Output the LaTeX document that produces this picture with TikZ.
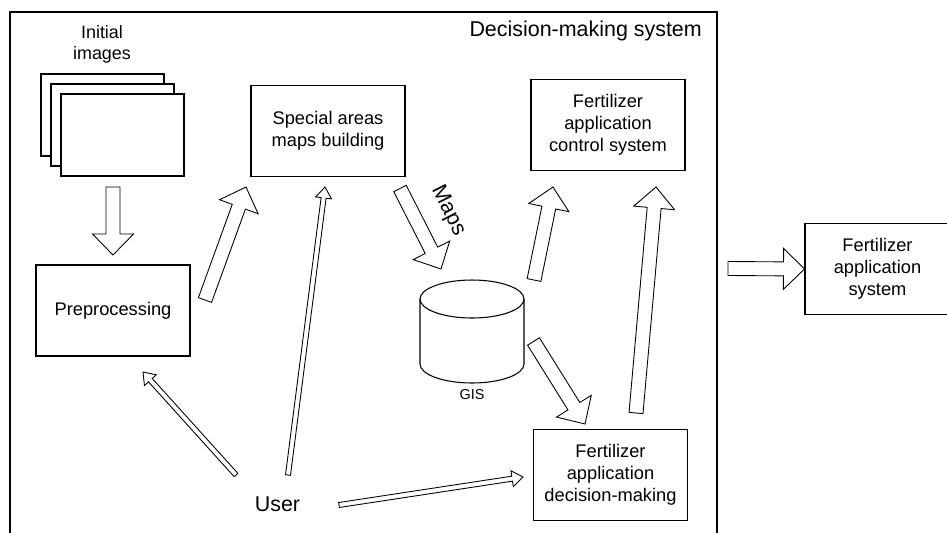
\documentclass[tikz,border=0pt]{standalone}
\usepackage{fontspec}
\setmainfont{Liberation Sans}
\usetikzlibrary{calc,positioning}

\newcommand{\blockarrow}[5]{%
        \coordinate (ba) at ($(#2)!#5!(#1)$);
        \draw[arrowline] ($(#1)!#3!90:(#2)$) -- ($(ba)!#3!90:(#2)$) -- ($(ba)!#4!90:(#2)$) -- (#2)
                -- ($(ba)!#4!-90:(#2)$) -- ($(ba)!#3!-90:(#2)$) -- ($(#1)!#3!-90:(#2)$) -- cycle;
}
\newcommand{\fatarrow}[2]{\blockarrow{#1}{#2}{1.4mm}{4.1mm}{4.2mm}}
\newcommand{\thinarrow}[2]{\blockarrow{#1}{#2}{0.5mm}{1.6mm}{2.2mm}}

\tikzset{
        box/.style={draw, line width=0.6pt, minimum width=3.08cm, minimum height=1.82cm,
                align=center, inner sep=0pt, font=\fontsize{10.4}{12.5}\selectfont},
        sheet/.style={draw, line width=0.6pt, fill=white, minimum width=2.46cm,
                minimum height=1.64cm, inner sep=0pt},
        arrowline/.style={draw, fill=white, line width=0.5pt},
        big/.style={font=\fontsize{12.2}{14}\selectfont}
}

\begin{document}
\begin{tikzpicture}[x=0.02cm, y=-0.02cm]
        \useasboundingbox (0,0) rectangle (947,532);
        \draw[line width=0.6pt] (10,540) -- (10,12) -- (717,12) -- (717,540);
        \node[big, anchor=base east] (title) at (708,36.7) {Decision-making system};

        \node[align=center, font=\fontsize{10.2}{12}\selectfont] (initial) at (102,44) {Initial\\images};
        \node[sheet] (img1) at (102.5,115) {};
        \node[sheet] (img2) at (112.5,125) {};
        \node[sheet] (img3) at (122.5,135) {};

        \node[box] (prep) at (113,310.5) {Preprocessing};
        \node[box] (special) at (328,131) {Special areas\\maps building};
        \node[box] (control) at (608,125) {Fertilizer\\application\\control system};
        \node[box] (decision) at (610.5,475) {Fertilizer\\application\\decision-making};
        \node[box, minimum width=2.9cm] (system) at (877.5,269) {Fertilizer\\application\\system};
        \node[big] (user) at (277.5,504.5) {User};

        % GIS store
        \draw[line width=0.6pt, fill=white] (420,299) -- (420,364)
                arc [start angle=180, end angle=0, x radius=52, y radius=19] -- (524,299);
        \draw[line width=0.6pt] (472,299) ellipse [x radius=52, y radius=19];
        \node[font=\fontsize{8.2}{10}\selectfont] (gis) at (472,395) {GIS};
        \node[big, rotate=-63] (maps) at (448,211) {Maps};

        \coordinate (img-out) at (113,187);
        \coordinate (prep-in) at (113,255);
        \coordinate (prep-out) at (205,300);
        \coordinate (special-in) at (246,187);
        \coordinate (special-out) at (400,188.5);
        \coordinate (gis-in) at (441,269);
        \coordinate (gis-up) at (534,280);
        \coordinate (control-in) at (553,187);
        \coordinate (gis-down) at (533.5,341.5);
        \coordinate (decision-in) at (585,424);
        \coordinate (decision-out) at (636,413);
        \coordinate (control-top) at (656,187);
        \coordinate (dms-out) at (728,268.5);
        \coordinate (user-a) at (236,475);
        \coordinate (user-b) at (288,475);
        \coordinate (user-c) at (339,505);
        \coordinate (prep-user) at (143,372);
        \coordinate (special-user) at (325,187);
        \coordinate (decision-user) at (523,477);

        \fatarrow{img-out}{prep-in}
        \fatarrow{prep-out}{special-in}
        \fatarrow{special-out}{gis-in}
        \fatarrow{gis-up}{control-in}
        \fatarrow{gis-down}{decision-in}
        \fatarrow{decision-out}{control-top}
        \fatarrow{dms-out}{system.west}
        \thinarrow{user-a}{prep-user}
        \thinarrow{user-b}{special-user}
        \thinarrow{user-c}{decision-user}
\end{tikzpicture}
\end{document}
